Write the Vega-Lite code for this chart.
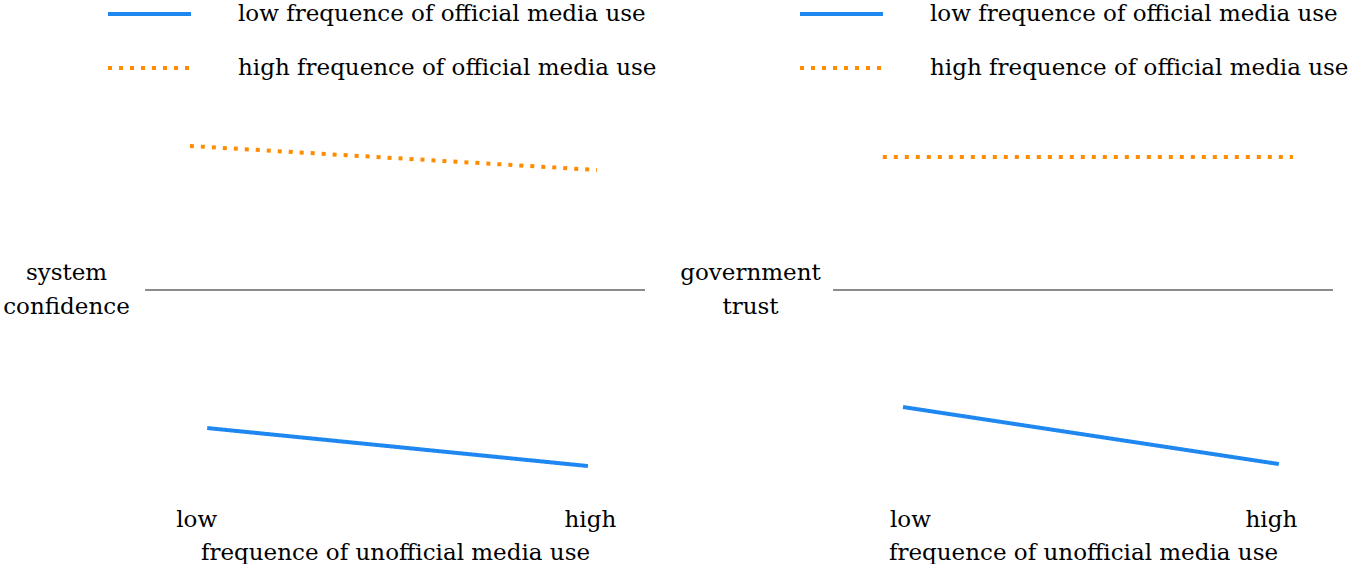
{
  "$schema": "https://vega.github.io/schema/vega-lite/v6.json",
  "padding": {"left": 2, "top": 0, "right": 0, "bottom": 0},
  "autosize": {"type": "pad"},
  "background": "white",
  "config": {
    "view": {"stroke": null},
    "font": "DejaVu Serif",
    "axis": {"labelColor": "black", "titleColor": "black", "titleFontWeight": "normal", "labelFont": "DejaVu Serif", "titleFont": "DejaVu Serif"},
    "legend": {"labelColor": "black", "labelFont": "DejaVu Serif"}
  },
  "datasets": {
    "lines": [
      {"panel": "system confidence", "group": "low frequence of official media use", "x": 0.028, "y": -1.453},
      {"panel": "system confidence", "group": "low frequence of official media use", "x": 0.995, "y": -1.853},
      {"panel": "system confidence", "group": "high frequence of official media use", "x": -0.016, "y": 1.516},
      {"panel": "system confidence", "group": "high frequence of official media use", "x": 1.018, "y": 1.263},
      {"panel": "government trust", "group": "low frequence of official media use", "x": -0.019, "y": -1.232},
      {"panel": "government trust", "group": "low frequence of official media use", "x": 1.022, "y": -1.832},
      {"panel": "government trust", "group": "high frequence of official media use", "x": -0.075, "y": 1.4},
      {"panel": "government trust", "group": "high frequence of official media use", "x": 1.061, "y": 1.4}
    ],
    "reference": [{"level": 0}]
  },
  "spacing": 188,
  "bounds": "flush",
  "resolve": {
    "scale": {"x": "independent", "y": "independent", "color": "independent", "strokeDash": "independent"},
    "legend": {"color": "independent", "strokeDash": "independent"}
  },
  "hconcat": [
    {
      "width": 500,
      "height": 380,
      "layer": [
        {
          "data": {"name": "lines"},
          "transform": [{"filter": "datum.panel == 'system confidence'"}],
          "mark": {"type": "line", "strokeWidth": 4, "strokeCap": "butt"},
          "encoding": {
            "x": {"field": "x", "type": "quantitative",
              "scale": {"domain": [-0.13, 1.14], "nice": false, "zero": false},
              "axis": {"values": [0, 1], "labelExpr": "datum.value == 0 ? 'low' : 'high'", "title": "frequence of unofficial media use",
                "domain": false, "ticks": false, "grid": false, "labelPadding": 28, "labelFontSize": 23, "titleFontSize": 23,
                "titlePadding": 10, "labelFlush": false}},
            "y": {"field": "y", "type": "quantitative",
              "scale": {"domain": [-2, 2], "nice": false, "zero": false},
              "axis": {"title": ["system", "confidence"], "titleAngle": 0, "titleAlign": "center", "titleBaseline": "middle",
                "titleX": -79, "titleY": 172, "titleFontSize": 23, "titleLineHeight": 34,
                "labels": false, "ticks": false, "domain": false, "grid": false}},
            "color": {"field": "group", "type": "nominal",
              "scale": {"domain": ["low frequence of official media use", "high frequence of official media use"], "range": ["#1e88f0", "#ff8c00"]},
              "legend": {"orient": "none", "legendX": -39, "legendY": -100, "title": null, "symbolType": "stroke", "symbolSize": 6889,
                "symbolStrokeWidth": 4, "labelFontSize": 23, "labelOffset": 45, "padding": 0, "labelLimit": 0, "clipHeight": 28, "rowPadding": 26}},
            "strokeDash": {"field": "group", "type": "nominal",
              "scale": {"domain": ["low frequence of official media use", "high frequence of official media use"], "range": [[1, 0], [4, 7]]},
              "legend": {"orient": "none", "legendX": -39, "legendY": -100, "title": null, "symbolType": "stroke", "symbolSize": 6889,
                "symbolStrokeWidth": 4, "labelFontSize": 23, "labelOffset": 45, "padding": 0, "labelLimit": 0, "clipHeight": 28, "rowPadding": 26}}
          }
        },
        {
          "data": {"name": "reference"},
          "mark": {"type": "rule", "color": "#8c8c8c", "strokeWidth": 2},
          "encoding": {"y": {"field": "level", "type": "quantitative"}}
        }
      ]
    },
    {
      "width": 500,
      "height": 380,
      "layer": [
        {
          "data": {"name": "lines"},
          "transform": [{"filter": "datum.panel == 'government trust'"}],
          "mark": {"type": "line", "strokeWidth": 4, "strokeCap": "butt"},
          "encoding": {
            "x": {"field": "x", "type": "quantitative",
              "scale": {"domain": [-0.213, 1.172], "nice": false, "zero": false},
              "axis": {"values": [0, 1], "labelExpr": "datum.value == 0 ? 'low' : 'high'", "title": "frequence of unofficial media use",
                "domain": false, "ticks": false, "grid": false, "labelPadding": 28, "labelFontSize": 23, "titleFontSize": 23,
                "titlePadding": 10, "labelFlush": false}},
            "y": {"field": "y", "type": "quantitative",
              "scale": {"domain": [-2, 2], "nice": false, "zero": false},
              "axis": {"title": ["government", "trust"], "titleAngle": 0, "titleAlign": "center", "titleBaseline": "middle",
                "titleX": -83, "titleY": 172, "titleFontSize": 23, "titleLineHeight": 34,
                "labels": false, "ticks": false, "domain": false, "grid": false}},
            "color": {"field": "group", "type": "nominal",
              "scale": {"domain": ["low frequence of official media use", "high frequence of official media use"], "range": ["#1e88f0", "#ff8c00"]},
              "legend": {"orient": "none", "legendX": -35, "legendY": -100, "title": null, "symbolType": "stroke", "symbolSize": 6889,
                "symbolStrokeWidth": 4, "labelFontSize": 23, "labelOffset": 45, "padding": 0, "labelLimit": 0, "clipHeight": 28, "rowPadding": 26}},
            "strokeDash": {"field": "group", "type": "nominal",
              "scale": {"domain": ["low frequence of official media use", "high frequence of official media use"], "range": [[1, 0], [4, 7]]},
              "legend": {"orient": "none", "legendX": -35, "legendY": -100, "title": null, "symbolType": "stroke", "symbolSize": 6889,
                "symbolStrokeWidth": 4, "labelFontSize": 23, "labelOffset": 45, "padding": 0, "labelLimit": 0, "clipHeight": 28, "rowPadding": 26}}
          }
        },
        {
          "data": {"name": "reference"},
          "mark": {"type": "rule", "color": "#8c8c8c", "strokeWidth": 2},
          "encoding": {"y": {"field": "level", "type": "quantitative"}}
        }
      ]
    }
  ]
}
